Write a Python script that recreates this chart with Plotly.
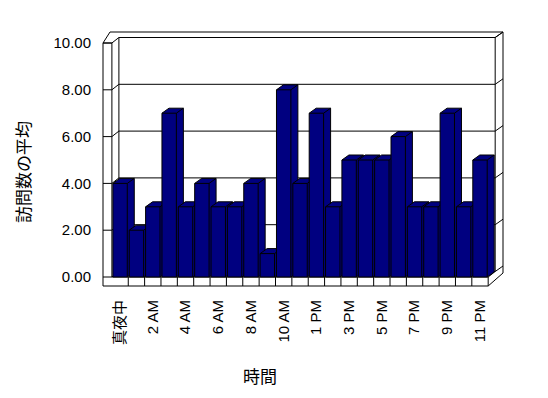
import plotly.graph_objects as go

# ---- data ----
categories = ["真夜中", "1 AM", "2 AM", "3 AM", "4 AM", "5 AM", "6 AM", "7 AM", "8 AM", "9 AM",
              "10 AM", "11 AM", "1 PM", "2 PM", "3 PM", "4 PM", "5 PM", "6 PM", "7 PM", "8 PM",
              "9 PM", "10 PM", "11 PM"]
values = [4, 2, 3, 7, 3, 4, 3, 3, 4, 1, 8, 4, 7, 3, 5, 5, 5, 6, 3, 3, 7, 3, 5]
y_ticks = [0, 2, 4, 6, 8, 10]
y_tick_labels = ["%.2f" % v for v in y_ticks]
x_title = "時間"
y_title = "訪問数の平均"

# ---- geometry (pixel -> data helpers used only for layout framing) ----
W, H = 548, 398
OFF = 8  # page body margin
CAT_PX = 16.36
X0_PX = 111.9
Y0_PX = 277.0
UNIT_PX = 23.4


def xd(p):
    return (p - X0_PX) / CAT_PX - 0.5


def yd(p):
    return (Y0_PX - p) / UNIT_PX


L_PX, R_PX, T_PX, B_PX = 102, 504, 31, 287
n = len(values)
hw = 0.44
DX = 7.0 / CAT_PX
DYB = 5.0 / UNIT_PX
DY = 5.5 / UNIT_PX
XL = xd(103)
XR = xd(503)
YT = yd(32)
YB = yd(286)
X1 = n - 0.5
XS = -0.5
YMAX = y_ticks[-1]

NAVY = "#000080"
fig = go.Figure()

for i, v in enumerate(values):
    x0, x1 = i - hw, i + hw
    sx = [x0, x1, x1 + DX, x1 + DX, x0 + DX, x0, x0]
    sy = [0, 0, DYB, v + DYB, v + DYB, v, 0]
    fig.add_trace(go.Scatter(x=sx, y=sy, mode="lines", fill="toself", fillcolor=NAVY,
                             line=dict(color="black", width=1), hoverinfo="skip",
                             showlegend=False))
    ex = [x1, x1, x0, None, x1, x1 + DX]
    ey = [0, v, v, None, v, v + DYB]
    fig.add_trace(go.Scatter(x=ex, y=ey, mode="lines", line=dict(color="black", width=1),
                             hoverinfo="skip", showlegend=False))

shapes = []


def seg(xa, ya, xb, yb, layer="below"):
    shapes.append(dict(type="line", xref="x", yref="y", x0=xa, y0=ya, x1=xb, y1=yb,
                       line=dict(color="black", width=1), layer=layer))


# back wall gridlines and diagonals
for v in y_ticks:
    seg(XS, v, XS + DX, v + DY)
    seg(XS + DX, v + DY, X1 + DX, v + DY)
    seg(X1 + DX, v + DY, XR, v + DY + (YT - YMAX - DY))
    seg(XL, v, XS, v)  # value ticks across wall face
# back wall verticals
seg(XS + DX, DY, XS + DX, YMAX + DY)
seg(X1 + DX, DY, X1 + DX, YMAX + DY)
# left wall front face
seg(XL, YB, XL, YMAX)
seg(XS, 0, XS, YMAX)
seg(XL, YMAX, XS, YMAX)
# floor front face
seg(XL, YB, X1, YB)
seg(XS, 0, X1, 0)
seg(X1, YB, X1, 0)
seg(X1, 0, X1 + DX, DY)
for k in range(1, n):
    seg(k - 0.5, YB, k - 0.5, 0)
# outer silhouette
seg(XL, YMAX, xd(110), YT)
seg(xd(110), YT, XR, YT)
seg(XR, YT, XR, yd(273))
seg(X1, YB, XR, yd(273))
seg(X1 + DX, YMAX + DY, XR, YT)

font_family = "Liberation Sans, Arial, Noto Sans CJK JP, sans-serif"

fig.update_layout(
    width=W, height=H,
    margin=dict(l=L_PX - OFF, r=W - R_PX + OFF, t=T_PX - OFF, b=H - B_PX + OFF, pad=0),
    paper_bgcolor="white", plot_bgcolor="white",
    shapes=shapes,
    showlegend=False,
    font=dict(family=font_family, size=15, color="black"),
    xaxis=dict(range=[xd(L_PX), xd(R_PX)], showgrid=False, zeroline=False, showline=False,
               tickmode="array", tickvals=list(range(0, n, 2)),
               ticktext=[categories[i] for i in range(0, n, 2)],
               tickangle=-90, ticks="", ticklabelstandoff=9,
               tickfont=dict(family=font_family, size=15, color="black"), fixedrange=True),
    yaxis=dict(range=[yd(B_PX), yd(T_PX)], showgrid=False, zeroline=False, showline=False,
               tickmode="array", tickvals=y_ticks, ticktext=y_tick_labels, ticks="",
               ticklabelstandoff=10,
               tickfont=dict(family=font_family, size=15, color="black"), fixedrange=True),
    annotations=[
        dict(text=x_title, xref="paper", yref="paper",
             x=(259.7 - L_PX) / (R_PX - L_PX), y=-(375 - B_PX) / (B_PX - T_PX),
             xanchor="center", yanchor="middle", showarrow=False,
             font=dict(family="Noto Sans CJK JP", size=17, color="black")),
        dict(text=y_title, xref="paper", yref="paper",
             x=-(L_PX - 22) / (R_PX - L_PX), y=(B_PX - 172) / (B_PX - T_PX),
             xanchor="center", yanchor="middle", textangle=-90, showarrow=False,
             font=dict(family="Noto Sans CJK JP", size=17, color="black")),
    ],
)

fig.write_html("out.html")
